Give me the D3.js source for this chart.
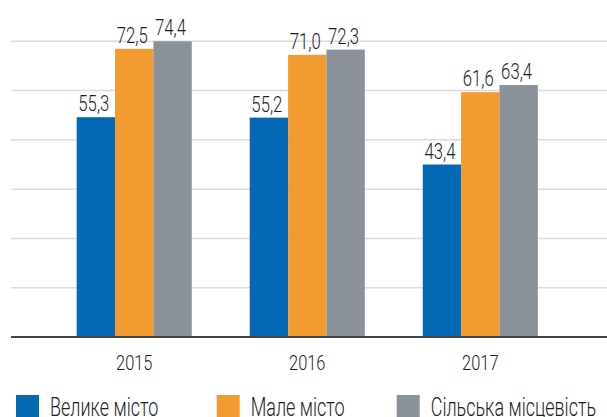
<!DOCTYPE html>
<html>
<head>
<meta charset="utf-8">
<script src="https://cdn.jsdelivr.net/npm/d3@7"></script>
<style>
  html, body { margin: 0; padding: 0; background: #fff; }
  svg { display: block; }
  text { font-family: Roboto, "DejaVu Sans Condensed", sans-serif; font-weight: 300; fill: #1e1e1e; }
</style>
</head>
<body>
<div id="chart"></div>
<script>
const WIDTH = 607;
const HEIGHT = 417;

const years = ['2015', '2016', '2017'];
const seriesNames = ['Велике місто', 'Мале місто', 'Сільська місцевість'];
const bigCity = [55.3, 55.2, 43.4];
const smallTown = [72.5, 71.0, 61.6];
const rural = [74.4, 72.3, 63.4];
const gridValues = [0, 12.4, 24.8, 37.2, 49.6, 62, 74.4];
const colors = ['#0568b3', '#f29b30', '#8b9199'];

const seriesValues = [bigCity, smallTown, rural];
const rows = years.flatMap((year, i) =>
  seriesNames.map((name, s) => ({ year, name, value: seriesValues[s][i] }))
);

const svg = d3.select('#chart')
  .append('svg')
  .attr('width', WIDTH)
  .attr('height', HEIGHT);

const x0 = d3.scaleBand()
  .domain(years)
  .range([47.7, 566.8])
  .paddingInner(0.335)
  .paddingOuter(0.1675);

const x1 = d3.scaleBand()
  .domain(seriesNames)
  .range([0, x0.bandwidth()]);

const y = d3.scaleLinear()
  .domain([0, 74.4])
  .range([337, 41.3]);

const color = d3.scaleOrdinal().domain(seriesNames).range(colors);

// condensed look: squeeze Roboto horizontally
function squeeze(selection, k) {
  selection.each(function () {
    const w = this.getComputedTextLength();
    d3.select(this)
      .attr('textLength', w * k)
      .attr('lengthAdjust', 'spacingAndGlyphs');
  });
}

// gridlines
svg.append('g')
  .selectAll('line')
  .data(gridValues.slice(1))
  .join('line')
  .attr('x1', 11)
  .attr('x2', WIDTH)
  .attr('y1', d => y(d))
  .attr('y2', d => y(d))
  .attr('stroke', '#dcdcdc')
  .attr('stroke-width', 1.5);

// bars
svg.append('g')
  .selectAll('rect')
  .data(rows)
  .join('rect')
  .attr('x', d => x0(d.year) + x1(d.name))
  .attr('y', d => y(d.value))
  .attr('width', x1.bandwidth())
  .attr('height', d => y(0) - y(d.value))
  .attr('fill', d => color(d.name));

// value labels
svg.append('g')
  .selectAll('text')
  .data(rows)
  .join('text')
  .attr('x', d => x0(d.year) + x1(d.name) + x1.bandwidth() / 2 - 2)
  .attr('y', d => y(d.value) - 6)
  .attr('text-anchor', 'middle')
  .attr('font-size', 22)
  .text(d => d.value.toFixed(1).replace('.', ','))
  .call(squeeze, 0.76);

// baseline
svg.append('line')
  .attr('x1', 11)
  .attr('x2', WIDTH)
  .attr('y1', y(0))
  .attr('y2', y(0))
  .attr('stroke', '#444')
  .attr('stroke-width', 2);

// x axis labels
const xAxis = d3.axisBottom(x0).tickSize(0).tickPadding(0);
svg.append('g')
  .attr('transform', `translate(0, ${y(0)})`)
  .call(xAxis)
  .call(g => g.select('.domain').remove())
  .call(g => g.selectAll('text')
    .attr('y', 33)
    .attr('dy', 0)
    .attr('font-size', 21)
    .attr('fill', '#1e1e1e')
    .call(squeeze, 0.78));

// legend
const legendX = [16, 216.7, 396.7];
const legend = svg.append('g')
  .selectAll('g')
  .data(seriesNames)
  .join('g')
  .attr('transform', (d, i) => `translate(${legendX[i]}, 395)`);

legend.append('rect')
  .attr('width', 23)
  .attr('height', 23)
  .attr('fill', d => color(d));

legend.append('text')
  .attr('x', 34)
  .attr('y', 21)
  .attr('font-size', 25)
  .text(d => d)
  .call(squeeze, 0.72);
</script>
</body>
</html>
